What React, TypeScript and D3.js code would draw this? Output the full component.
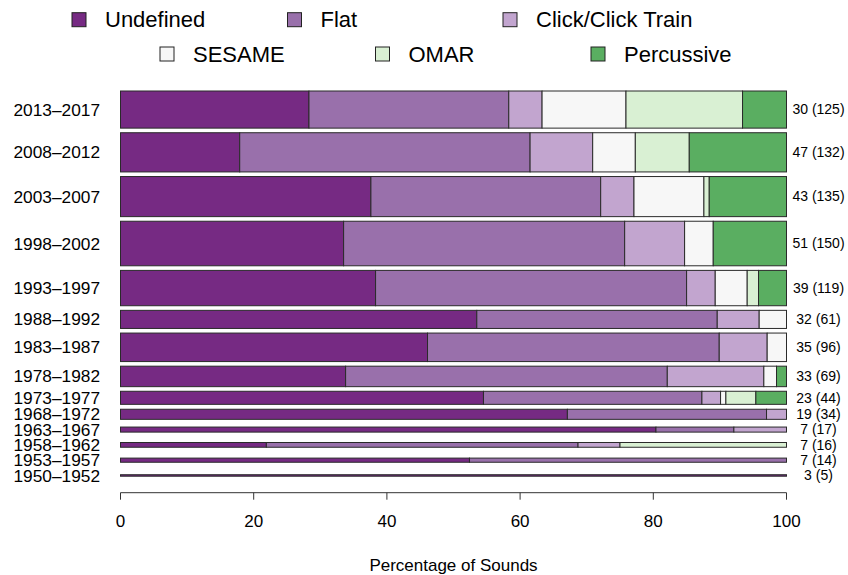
import React from "react";
import * as d3 from "d3";

const periods = ["2013–2017", "2008–2012", "2003–2007", "1998–2002", "1993–1997", "1988–1992", "1983–1987", "1978–1982", "1973–1977", "1968–1972", "1963–1967", "1958–1962", "1953–1957", "1950–1952"];
const species = [30, 47, 43, 51, 39, 32, 35, 33, 23, 19, 7, 7, 7, 3];
const sounds = [125, 132, 135, 150, 119, 61, 96, 69, 44, 34, 17, 16, 14, 5];

const undefinedPct = [28.3, 17.9, 37.6, 33.5, 38.3, 53.5, 46.1, 33.8, 54.5, 67.1, 80.4, 21.9, 52.4, 100];
const flatPct = [30.0, 43.6, 34.5, 42.2, 46.7, 36.1, 43.8, 48.3, 32.8, 29.9, 11.7, 46.8, 47.6, 0];
const clickPct = [5.0, 9.4, 5.0, 9.0, 4.3, 6.3, 7.2, 14.5, 2.8, 3.0, 7.9, 6.3, 0, 0];
const sesamePct = [12.6, 6.4, 10.5, 4.3, 4.8, 4.1, 2.9, 1.9, 0.8, 0, 0, 0, 0, 0];
const omarPct = [17.5, 8.1, 0.8, 0, 1.7, 0, 0, 0, 4.5, 0, 0, 25.0, 0, 0];
const percussivePct = [6.6, 14.6, 11.6, 11.0, 4.2, 0, 0, 1.5, 4.6, 0, 0, 0, 0, 0];

const categories = ["Undefined", "Flat", "Click/Click Train", "SESAME", "OMAR", "Percussive"];
const colors = ["#762a83", "#9970ab", "#c2a5cf", "#f7f7f7", "#d9f0d3", "#5aae61"];
const xTicks = [0, 20, 40, 60, 80, 100];

const W = 848;
const H = 575;
const FONT = "'Liberation Sans', Arial, Helvetica, sans-serif";

export default function App() {
  const series = [undefinedPct, flatPct, clickPct, sesamePct, omarPct, percussivePct];
  const rows = periods.map((p, i) => {
    const r: any = { period: p };
    categories.forEach((c, j) => (r[c] = series[j][i]));
    return r;
  });
  const stacked = d3.stack().keys(categories)(rows);

  const x = d3.scaleLinear().domain([0, 100]).range([120.5, 786.5]);

  // vertical layout: bar thickness proportional to number of sounds,
  // with a minimum slot for very small samples
  const gapU = 15.5;
  const minU = 36;
  const slots = sounds.map((n) => Math.max(n, minU));
  const centersU: number[] = [];
  let acc = 0;
  slots.forEach((s) => {
    centersU.push(acc + gapU / 2 + s / 2);
    acc += s + gapU;
  });
  const y = d3.scaleLinear().domain([0, acc]).range([88.7, 88.7 + acc * 0.297]);
  const hScale = (n: number) => y(n) - y(0);

  const axisY = 492.7;

  return (
    <svg width={W} height={H} style={{ position: "absolute", left: 0, top: 0, background: "#fff" }} fontFamily={FONT}>
      {/* legend */}
      {categories.map((c, i) => {
        const row = i < 3 ? 0 : 1;
        const col = i % 3;
        const x0 = (row === 0 ? 72 : 160) + col * 215.5;
        const cy = row === 0 ? 19.7 : 54;
        return (
          <g key={c}>
            <rect x={x0} y={cy - 7} width={14} height={14} fill={colors[i]} stroke="#222" strokeWidth={1} />
            <text x={x0 + 33} y={cy} dy="0.35em" fontSize={22} fill="#000">{c}</text>
          </g>
        );
      })}

      {/* bars */}
      {stacked.map((s, j) => (
        <g key={s.key} fill={colors[j]}>
          {s.map((d, i) => {
            if (d[1] - d[0] <= 0) return null;
            const h = hScale(sounds[i]);
            const cy = y(centersU[i]);
            return (
              <rect key={i} x={x(d[0])} y={cy - h / 2} width={x(d[1]) - x(d[0])} height={h} stroke="#2a2a2a" strokeWidth={1} />
            );
          })}
        </g>
      ))}

      {/* left labels */}
      {periods.map((p, i) => (
        <text key={p} x={100} y={y(centersU[i])} dy="0.35em" textAnchor="end" fontSize={17.3} fill="#000">{p}</text>
      ))}

      {/* right labels */}
      {periods.map((p, i) => (
        <text key={p} x={818.5} y={y(centersU[i])} dy="0.35em" textAnchor="middle" fontSize={14} fill="#000">
          {`${species[i]} (${sounds[i]})`}
        </text>
      ))}

      {/* x axis */}
      <line x1={x(0)} x2={x(100)} y1={axisY} y2={axisY} stroke="#333" strokeWidth={1} />
      {xTicks.map((t) => (
        <g key={t}>
          <line x1={x(t)} x2={x(t)} y1={axisY} y2={axisY + 7} stroke="#333" strokeWidth={1} />
          <text x={x(t)} y={521} dy="0.35em" textAnchor="middle" fontSize={17} fill="#000">{t}</text>
        </g>
      ))}
      <text x={(x(0) + x(100)) / 2} y={565} dy="0.35em" textAnchor="middle" fontSize={17} fill="#000">Percentage of Sounds</text>
    </svg>
  );
}
